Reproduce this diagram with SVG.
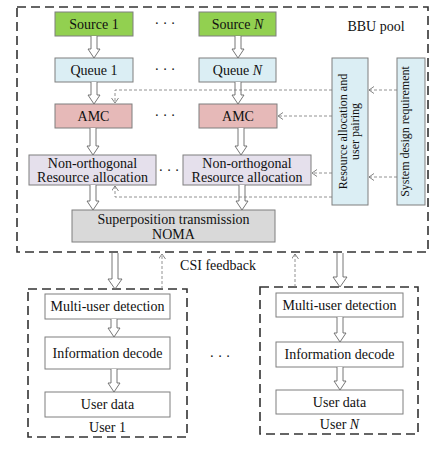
<svg xmlns="http://www.w3.org/2000/svg" width="443" height="456" viewBox="0 0 443 456" font-family="'Liberation Serif', 'Times New Roman', serif">
<defs>
<marker id="chev" markerWidth="8" markerHeight="8" refX="5" refY="3.5" orient="auto" markerUnits="userSpaceOnUse">
<path d="M0,0 L5,3.5 L0,7" fill="none" stroke="#666" stroke-width="0.8"/>
</marker>
</defs>
<style>
text{font-family:"Liberation Serif","Times New Roman",serif;font-size:14px;fill:#111;text-anchor:middle}
.vt{font-size:12px}
.box{stroke:#7f7f7f;stroke-width:1}
.grp{fill:none;stroke:#333;stroke-width:1.6;stroke-dasharray:9 5}
.ha{fill:#fff;stroke:#666;stroke-width:0.9}
.dl{fill:none;stroke:#777;stroke-width:0.8;stroke-dasharray:3 2;marker-end:url(#chev)}
.src{fill:#92d050}
.que{fill:#dbeef4}
.amc{fill:#e6b9b8}
.noa{fill:#e5e0ec}
.sup{fill:#d9d9d9}
.usr{fill:#fff}
</style>
<g id="bbu-pool">
<rect class="grp" x="17" y="7" width="411" height="245"/>
<text x="376" y="31">BBU pool</text>
</g>
<g id="source1"><rect class="box src" x="55" y="12" width="78" height="24"/><text x="94" y="28.5">Source 1</text></g>
<g id="sourceN"><rect class="box src" x="199" y="12" width="77" height="24"/><text x="237.5" y="28.5">Source <tspan font-style="italic">N</tspan></text></g>
<g id="queue1"><rect class="box que" x="55" y="58" width="78" height="24"/><text x="94" y="74.5">Queue 1</text></g>
<g id="queueN"><rect class="box que" x="199" y="58" width="77" height="24"/><text x="237.5" y="74.5">Queue <tspan font-style="italic">N</tspan></text></g>
<g id="amc1"><rect class="box amc" x="55" y="104" width="77" height="24"/><text x="93.5" y="120.5">AMC</text></g>
<g id="amcN"><rect class="box amc" x="199" y="104" width="78" height="24"/><text x="238" y="120.5">AMC</text></g>
<g id="noa1"><rect class="box noa" x="29" y="155" width="127" height="30"/><text x="92.5" y="167.5">Non-orthogonal</text><text x="92.5" y="182">Resource allocation</text></g>
<g id="noaN"><rect class="box noa" x="183" y="155" width="128" height="30"/><text x="247" y="167.5">Non-orthogonal</text><text x="247" y="182">Resource allocation</text></g>
<g id="superposition"><rect class="box sup" x="72" y="210" width="203" height="32"/><text x="173.5" y="223.5">Superposition transmission</text><text x="173.5" y="238.5">NOMA</text></g>
<g id="resource-pairing"><rect class="box que" x="332" y="58" width="36" height="147"/><text class="vt" transform="translate(350,131.5) rotate(-90)" y="-3">Resource allocation and</text><text class="vt" transform="translate(350,131.5) rotate(-90)" y="9">user pairing</text></g>
<g id="system-design"><rect class="box que" x="397" y="58" width="28" height="147"/><text class="vt" transform="translate(411,131.5) rotate(-90)" y="-2">System design requirement</text></g>
<g id="dots">
<text x="165" y="28">· · ·</text>
<text x="165" y="74">· · ·</text>
<text x="165" y="120">· · ·</text>
<text x="169" y="175">· · ·</text>
<text x="220" y="361">· · ·</text>
</g>
<g id="user1">
<rect class="grp" x="28" y="289" width="159" height="148"/>
<rect class="box usr" x="45" y="294" width="125" height="25"/><text x="107.5" y="311">Multi-user detection</text>
<rect class="box usr" x="45" y="337" width="125" height="32"/><text x="107.5" y="357.5">Information decode</text>
<rect class="box usr" x="45" y="392" width="125" height="25"/><text x="107.5" y="409">User data</text>
<text x="107.5" y="431.5">User 1</text>
</g>
<g id="userN">
<rect class="grp" x="260" y="287" width="158" height="147"/>
<rect class="box usr" x="276" y="293" width="127" height="24"/><text x="339.5" y="309.5">Multi-user detection</text>
<rect class="box usr" x="276" y="342" width="127" height="25"/><text x="339.5" y="359">Information decode</text>
<rect class="box usr" x="276" y="390" width="127" height="24"/><text x="339.5" y="406.5">User data</text>
<text x="339.5" y="429">User <tspan font-style="italic">N</tspan></text>
</g>
<g id="csi-label"><text x="218" y="270">CSI feedback</text></g>
<g id="connectors">
<path class="ha" d="M91,36 V49 H88 L94,58 L100,49 H97 V36"/>
<path class="ha" d="M235,36 V49 H232 L238,58 L244,49 H241 V36"/>
<path class="ha" d="M91,82 V95 H88 L94,104 L100,95 H97 V82"/>
<path class="ha" d="M235,82 V95 H232 L238,104 L244,95 H241 V82"/>
<path class="ha" d="M90,128 V146 H87 L93,155 L99,146 H96 V128"/>
<path class="ha" d="M238,128 V146 H235 L241,155 L247,146 H244 V128"/>
<path class="ha" d="M90,185 V201 H87 L93,210 L99,201 H96 V185"/>
<path class="ha" d="M239,185 V201 H236 L242,210 L248,201 H245 V185"/>
<path class="ha" d="M112,253 V279 H108 L115,289 L122,279 H118 V253"/>
<path class="ha" d="M337,253 V277 H333 L340,287 L347,277 H343 V253"/>
<path class="ha" d="M111,319 V328 H108 L114,337 L120,328 H117 V319"/>
<path class="ha" d="M111,369 V383 H108 L114,392 L120,383 H117 V369"/>
<path class="ha" d="M337,317 V333 H334 L340,342 L346,333 H343 V317"/>
<path class="ha" d="M337,367 V381 H334 L340,390 L346,381 H343 V367"/>
<path class="dl" d="M397,90 H369"/>
<path class="dl" d="M397,177 H369"/>
<path class="dl" d="M332,90 H115 V103"/>
<path class="dl" d="M332,116 H278"/>
<path class="dl" d="M332,173 H312"/>
<path class="dl" d="M332,197 H115 V186"/>
<path class="dl" d="M162,289 V254"/>
<path class="dl" d="M295,287 V254"/>
</g>
</svg>
